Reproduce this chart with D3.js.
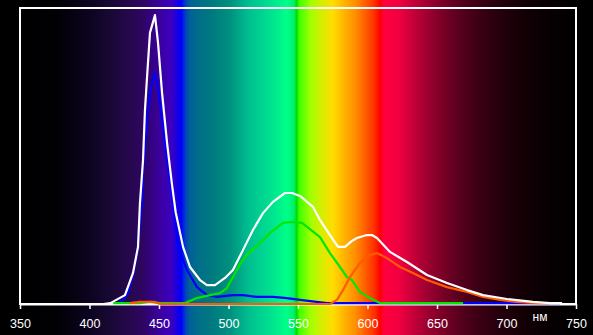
<!DOCTYPE html>
<html><head><meta charset="utf-8">
<script src="https://cdn.jsdelivr.net/npm/d3@7"></script>
<style>html,body{margin:0;padding:0;background:#000;}svg{display:block;}</style>
</head><body>
<svg id="chart" width="593" height="335"></svg>
<script>
// ---- data ----
const xTicks = [350, 400, 450, 500, 550, 600, 650, 700, 750];
const unitLabel = "нм";

const whiteNm  = [410, 415, 425.5, 431.3, 434.9, 436.3, 438.5, 439.9, 441.4, 443.5, 447.1, 449.3, 452.2, 455.8, 459.3, 462, 467.3, 472.3, 479.5, 484.5, 490.3, 497.5, 503.2, 510.4, 517.6, 524.8, 532, 540.6, 545.7, 551.4, 556.5, 560.8, 565.8, 573, 578.8, 583.8, 588.8, 592.4, 599.6, 603.2, 606.8, 616.2, 628.4, 642.8, 657.2, 671.6, 683.1, 700.3, 719, 731.3, 740];
const whiteVal = [0, 0.3, 3.0, 10.5, 19.3, 34.1, 48.6, 65.5, 76.7, 91.6, 97.6, 88.2, 71.3, 54.4, 40.5, 31, 19.3, 12.5, 8.1, 6.4, 6.4, 8.8, 11.5, 18.2, 25, 30.7, 34.5, 37.5, 37.5, 36.5, 34.5, 32.8, 28.4, 23.3, 19.3, 19.3, 21.3, 22.3, 23.3, 23.3, 22.3, 17.6, 14.2, 9.8, 7.1, 4.7, 3.0, 1.7, 0.7, 0.3, 0.3];

const blueNm  = [420.5, 424.8, 427.7, 431.3, 434.2, 437.8, 438.5, 441.4, 444.2, 447.1, 449.3, 452.9, 456.5, 460.1, 463.7, 470.1, 477.3, 484.5, 491.7, 503.2, 510.4, 520.5, 532, 542, 551.4, 570.9, 600, 650, 700, 738.5];
const blueVal = [0.3, 1.7, 3.7, 9.8, 17.2, 34.1, 45.3, 62.2, 73.3, 78, 73.3, 59.8, 46.3, 34.1, 19.3, 11.5, 5.7, 3.0, 2.4, 3.0, 3.0, 2.4, 2.4, 2.0, 1.4, 0.3, 0.3, 0.3, 0.3, 0.3];

const greenNm  = [417, 436.3, 443.5, 450.7, 468.7, 477.3, 486.7, 493.9, 498.9, 503.2, 508, 513, 522.7, 529.9, 539.2, 545.7, 552.9, 558.6, 565.8, 573, 580.2, 585.2, 588.8, 594.6, 601.8, 609, 640, 668.7];
const greenVal = [0.3, 0.3, 0.7, 0.3, 0.3, 2.0, 3.0, 3.7, 5.4, 9.1, 13.2, 16.6, 20.6, 24, 27.4, 27.7, 27.4, 25.3, 22.6, 17.2, 12.5, 9.1, 8.1, 4.1, 2.0, 0.3, 0.3, 0.3];

const redNm  = [429, 436, 447, 450.7, 500, 573, 578, 582.4, 587.4, 594.6, 601.8, 606.8, 614, 623.4, 632.7, 642.8, 657.2, 671.6, 683.1, 695.3, 707.5, 721.9, 731.3];
const redVal = [0.3, 0.7, 0.7, 0, 0, 0, 1.4, 4.7, 9.1, 13.9, 16.6, 17.2, 15.5, 12.5, 10.5, 8.1, 5.7, 4.1, 2.4, 1.4, 0.7, 0.3, 0.3];

// background spectrum stops (wavelength, colour)
const specNm  = [350, 375, 400, 415, 429, 438, 451, 459, 464, 466, 469, 472, 479, 487, 501, 515, 530, 542, 547, 549, 551, 559, 566, 575, 584, 591, 598, 605, 609, 612, 623, 638, 652, 666, 681, 695, 710, 728, 750];
const specCol = ["#000000", "#010003", "#0c0420", "#180834", "#26084e", "#2e0560", "#3a00a0", "#3c00c0", "#1000e8", "#0000ff", "#0040c0", "#006098", "#006f88", "#007880", "#00907f", "#00c090", "#00e090", "#00ff88", "#00f070", "#00dd00", "#40ff00", "#a0ff00", "#d0f000", "#ffdd00", "#ffb000", "#ff9000", "#ff6000", "#ff3000", "#ff0000", "#ff0040", "#f00040", "#b00035", "#800028", "#58001e", "#3a0014", "#25000c", "#150006", "#080002", "#000000"];

// ---- chart ----
(function () {
const W = 593, H = 335;
const pL = 20, pR = 576, pT = 8, pB = 304;
const svg = d3.select("#chart");
const x = d3.scaleLinear().domain([350, 750]).range([pL, pR]);
const y = d3.scaleLinear().domain([0, 100]).range([pB, pT]);

const defs = svg.append("defs");
const grad = defs.append("linearGradient").attr("id", "spec")
  .attr("gradientUnits", "userSpaceOnUse")
  .attr("x1", x(350)).attr("x2", x(750)).attr("y1", 0).attr("y2", 0);
specNm.forEach((n, i) => grad.append("stop")
  .attr("offset", (n - 350) / 400).attr("stop-color", specCol[i]));

svg.append("rect").attr("width", W).attr("height", H).attr("fill", "#000");
svg.append("rect").attr("x", x(350)).attr("y", 0)
  .attr("width", x(750) - x(350)).attr("height", H).attr("fill", "url(#spec)");

// frame
svg.append("rect").attr("x", pL).attr("y", pT)
  .attr("width", pR - pL).attr("height", pB - pT)
  .attr("fill", "none").attr("stroke", "#fff").attr("stroke-width", 2);

// axis
const axis = d3.axisBottom(x).tickValues(xTicks).tickSize(5).tickSizeOuter(0).tickFormat(d3.format("d"));
const ag = svg.append("g").attr("transform", `translate(0,${pB})`).call(axis);
ag.select(".domain").attr("stroke", "#fff").attr("stroke-width", 2);
ag.selectAll(".tick line").attr("stroke", "#fff").attr("stroke-width", 1.5);
ag.selectAll(".tick text").attr("fill", "#fff")
  .attr("font-family", "Liberation Sans, Arial, sans-serif").attr("font-size", 12.5)
  .attr("y", 24).attr("dy", 0);

svg.append("text").attr("x", 540).attr("y", 321).attr("text-anchor", "middle")
  .attr("fill", "#fff").attr("font-family", "Liberation Sans, Arial, sans-serif")
  .attr("font-size", 12).text(unitLabel);

const line = d3.line().x(d => x(d[0])).y(d => y(d[1]));
const series = [
  {nm: blueNm, val: blueVal, color: "#0000ff"},
  {nm: greenNm, val: greenVal, color: "#00e600"},
  {nm: redNm, val: redVal, color: "#ff5a00"},
  {nm: whiteNm, val: whiteVal, color: "#ffffff"}
];
series.forEach(s => {
  svg.append("path").datum(s.nm.map((n, i) => [n, s.val[i]]))
    .attr("d", line).attr("fill", "none").attr("stroke", s.color)
    .attr("stroke-width", 2.2).attr("stroke-linejoin", "round");
});
})();
</script>
</body></html>
